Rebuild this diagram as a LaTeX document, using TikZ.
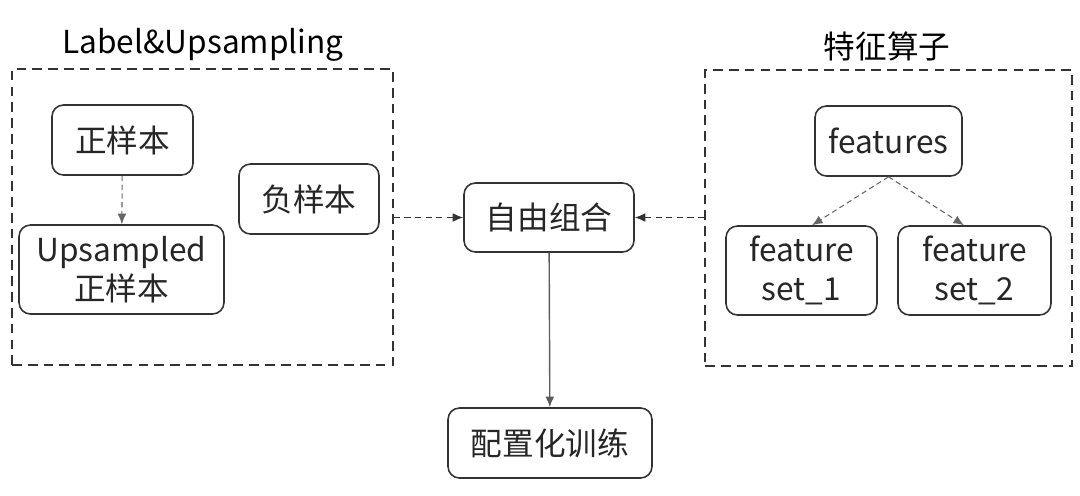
\documentclass[tikz,border=0pt]{standalone}
\usepackage{fontspec}
\setmainfont{Noto Sans CJK SC}
\usetikzlibrary{arrows.meta}
\definecolor{linegray}{HTML}{333333}
\definecolor{arrowgray}{HTML}{666666}

\begin{document}
\begin{tikzpicture}[x=0.02cm, y=-0.02cm,
        font=\fontsize{18}{22}\selectfont,
        block/.style={draw=linegray, line width=0.9pt, rounded corners=6.5pt, align=center, inner sep=0pt, text=black!85},
        frame/.style={draw=linegray, line width=1.1pt, dash pattern=on 5.5pt off 3.5pt, inner sep=0pt},
        thin dash/.style={draw=arrowgray, line width=0.6pt, dash pattern=on 3pt off 2pt, -{Latex[length=6pt, width=5pt]}},
        link/.style={draw=linegray, line width=0.7pt, dash pattern=on 3.5pt off 2.5pt, -{Latex[length=6pt, width=5pt]}}]
        \useasboundingbox (0, 0) rectangle (1080, 495);
        % frames and titles
        \node (lframe) at (202.5, 217) [frame, minimum width=7.62cm, minimum height=5.92cm] {};
        \node (rframe) at (888.5, 218) [frame, minimum width=7.34cm, minimum height=5.92cm] {};
        \node (ltitle) at (203, 45) {Label\&Upsampling};
        \node (rtitle) at (887, 46) {特征算子};
        % blocks
        \node (pos) at (122.5, 140) [block, minimum width=2.82cm, minimum height=1.4cm] {正样本};
        \node (up) at (121.5, 269.5) [block, minimum width=4.1cm, minimum height=1.78cm] {Upsampled\\正样本};
        \node (neg) at (309, 199) [block, minimum width=2.8cm, minimum height=1.4cm] {负样本};
        \node (combo) at (549, 217.5) [block, minimum width=3.4cm, minimum height=1.38cm] {自由组合};
        \node (train) at (550, 443) [block, minimum width=4.08cm, minimum height=1.4cm] {配置化训练};
        \node (feat) at (888.5, 141) [block, minimum width=2.94cm, minimum height=1.4cm] {features};
        \node (set1) at (801.5, 270.5) [block, minimum width=3.02cm, minimum height=1.78cm] {feature\\set\_1};
        \node (set2) at (974.5, 270.5) [block, minimum width=3.06cm, minimum height=1.78cm] {feature\\set\_2};
        % connectors
        \draw [thin dash] (pos) -- (up);
        \draw [thin dash] (feat.south) -- ([xshift=6pt]set1.north);
        \draw [thin dash] (feat.south) -- ([xshift=-6pt]set2.north);
        \draw [link] (lframe.east |- combo.west) -- (combo.west);
        \draw [link] (rframe.west |- combo.east) -- (combo.east);
        \draw [draw=linegray!80, line width=0.8pt, -{Latex[length=6pt, width=5pt]}] (combo) -- (train);
    \end{tikzpicture}
\end{document}
